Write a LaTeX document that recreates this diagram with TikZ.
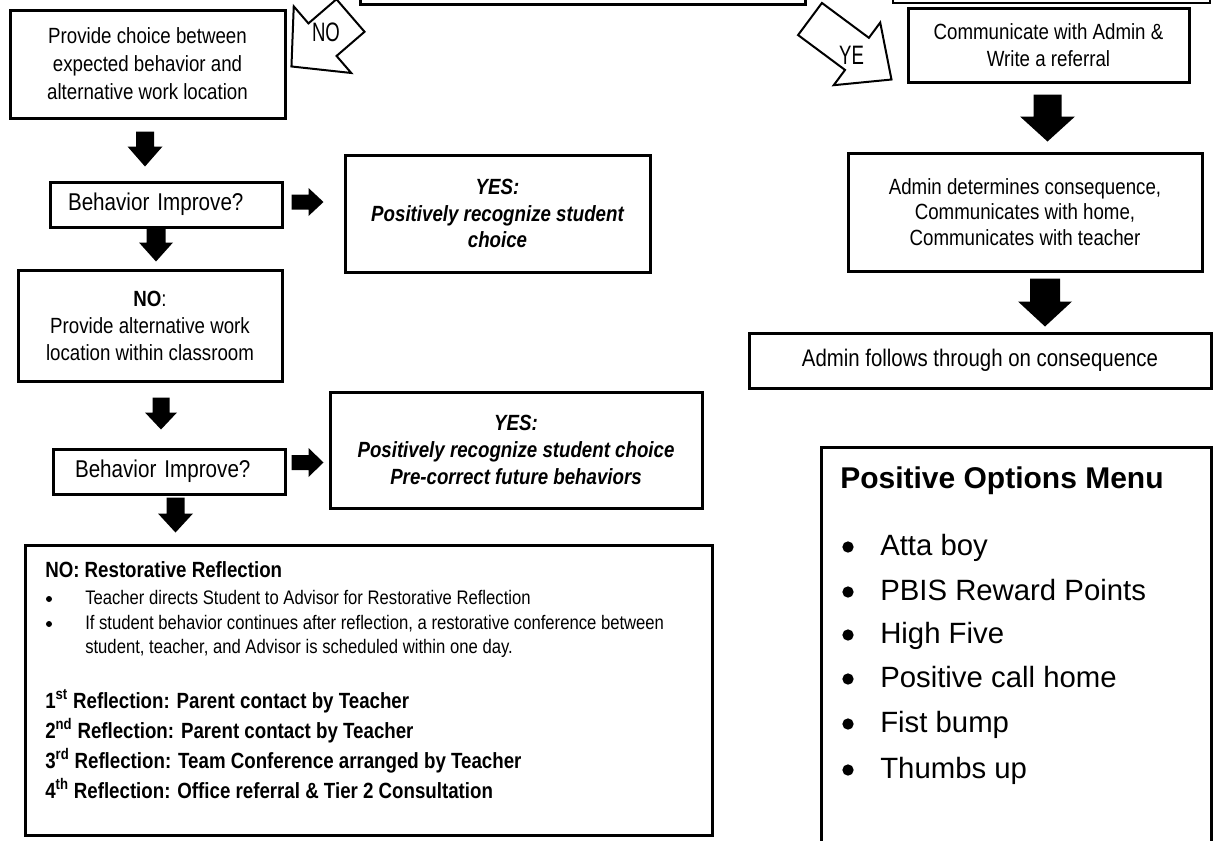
\documentclass[tikz,border=0pt]{standalone}
\usepackage{fontspec}
\usepackage{graphicx}
\setmainfont{Liberation Sans}[FakeStretch=0.85]
\newfontfamily\menufont{Liberation Sans}
\usetikzlibrary{positioning, calc}
\newcommand{\fs}[2]{\fontsize{#1}{#2}\selectfont}
\newcommand{\blockarrow}[7]{\path[#1, shift={(#2)}, rotate=#3] (0,-#5)--(#4-#7,-#5)--(#4-#7,-#6)--(#4,0)--(#4-#7,#6)--(#4-#7,#5)--(0,#5)--cycle;}
\tikzset{
  box/.style={draw, line width=2.25pt, inner sep=0pt, align=center},
  blk/.style={fill=black},
  hollow/.style={draw, line width=1.5pt, line join=miter, fill=white},
  yesfont/.style={font=\fs{16.5}{20}\bfseries\itshape},
  line/.style={anchor=base west, inner sep=0pt},
  dot/.style={circle, fill=black, inner sep=0pt, minimum size=#1},
}
\begin{document}
\begin{tikzpicture}[x=0.75pt, y=-0.75pt]
\useasboundingbox (0,0) rectangle (1214,840);
\clip (0,0) rectangle (1214,840);
\node[box, minimum width=333.75pt, minimum height=18pt] (decide) at (582.5,-8) {};
\node[draw, line width=1.5pt, inner sep=0pt, minimum width=237.75pt, minimum height=18pt] (topright) at (1051.5,-9) {};
\blockarrow{hollow}{$(decide.south west)+(-8,10)$}{-139.2}{78}{21.5}{44}{41}
\blockarrow{hollow}{$(decide.south east)+(3.5,13.5)$}{-36.6}{101.5}{20}{39}{43}
\node[font=\fs{20}{22}] (nolabel) at (326,32.5) {\scalebox{0.82}[1]{NO}};
\node[font=\fs{20}{22}] (yelabel) at (851.5,55.5) {\scalebox{0.82}[1]{YE}};
\node[box, minimum width=206.25pt, minimum height=81pt, font=\fs{16.5}{21}] (choice) at (147.5,64) {Provide choice between\\expected behavior and\\alternative work location};
\node[box, minimum width=174pt, minimum height=33.75pt, text width=147pt, align=left, font=\fs{18.2}{20}] (beh1) at (166,204.5) {Behavior Improve?};
\node[box, minimum width=228.75pt, minimum height=87.75pt, yesfont] (yes1) at (497.5,213.5) {YES:\\Positively recognize student\\choice};
\node[box, minimum width=198pt, minimum height=83.25pt, font=\fs{16.5}{20.25}] (retry) at (150,325.5) {\textbf{NO}:\\Provide alternative work\\location within classroom};
\node[box, minimum width=174pt, minimum height=33.75pt, text width=141pt, align=left, font=\fs{18.2}{20}] (beh2) at (169,471.5) {Behavior Improve?};
\node[box, minimum width=279pt, minimum height=87pt, yesfont] (yes2) at (516,450) {YES:\\Positively recognize student choice\\Pre-correct future behaviors};
\blockarrow{blk}{$(choice.south)+(-2.5,12)$}{-90}{35}{9}{17.5}{20}
\blockarrow{blk}{$(beh1.south)+(-10,0)$}{-90}{33}{9.5}{17}{19}
\blockarrow{blk}{$(retry.south)+(11,15)$}{-90}{32}{8.5}{16}{17}
\blockarrow{blk}{$(beh2.south)+(6.5,2)$}{-90}{35}{9}{17.5}{19}
\blockarrow{blk}{$(beh1.east)+(8,-2.5)$}{0}{32}{7.5}{14}{15}
\blockarrow{blk}{$(beh2.east)+(5,-9)$}{0}{32}{7.5}{14.5}{15}
\node[box, minimum width=515.25pt, minimum height=217.5pt] (rest) at (368.5,690) {};
\node[line, font=\fs{16.5}{18}\bfseries] (resthead) at (45,577) {NO: Restorative Reflection};
\node[dot=4.5pt] (dotA) at (49,599) {};
\node[dot=4.5pt] (dotB) at (49,624) {};
\node[line, font=\fs{14.7}{16}] (stepA) at (85,604) {Teacher directs Student to Advisor for Restorative Reflection};
\node[line, font=\fs{14.7}{16}] (stepB) at (85,629) {If student behavior continues after reflection, a restorative conference between};
\node[line, font=\fs{14.7}{16}] (stepC) at (85,653) {student, teacher, and Advisor is scheduled within one day.};
\foreach \n/\ord/\txt/\y in {1/st/Parent contact by Teacher/708, 2/nd/Parent contact by Teacher/738, 3/rd/Team Conference arranged by Teacher/768, 4/th/Office referral \& Tier 2 Consultation/798}
  \node[line, font=\fs{16.5}{18}\bfseries] (refl\n) at (45,\y) {\n\textsuperscript{\ord} Reflection: \txt};
\node[box, minimum width=210.75pt, minimum height=55.5pt, font=\fs{16.5}{20.25}] (comm) at (1048.5,45) {Communicate with Admin \&\\Write a referral};
\node[box, minimum width=265.5pt, minimum height=88.5pt, font=\fs{16.5}{19}] (admin) at (1025,212) {Admin determines consequence,\\Communicates with home,\\Communicates with teacher};
\node[box, minimum width=346.5pt, minimum height=41.25pt, font=\fs{18}{20}] (follow) at (980,360.5) {Admin follows through on consequence};
\blockarrow{blk}{$(comm.south)+(-1,11)$}{-90}{47}{14}{27.5}{25}
\blockarrow{blk}{$(admin.south)+(20,6)$}{-90}{48}{15}{27}{25}
\node[box, minimum width=292.5pt, minimum height=298.5pt] (menu) at (1016,646) {};
\node[line, font=\menufont\fs{22.5}{26}\bfseries] (menuhead) at (840,488) {Positive Options Menu};
\foreach \y/\txt [count=\i] in {545/Atta boy, 590/PBIS Reward Points, 633/High Five, 677/Positive call home, 722/Fist bump, 768/Thumbs up}{
  \node[dot=8.5pt] (dot\i) at (848,\y+2) {};
  \node[line, font=\menufont\fs{22}{26}] (opt\i) at (880,\y+10.5) {\txt};
}
\end{tikzpicture}
\end{document}
